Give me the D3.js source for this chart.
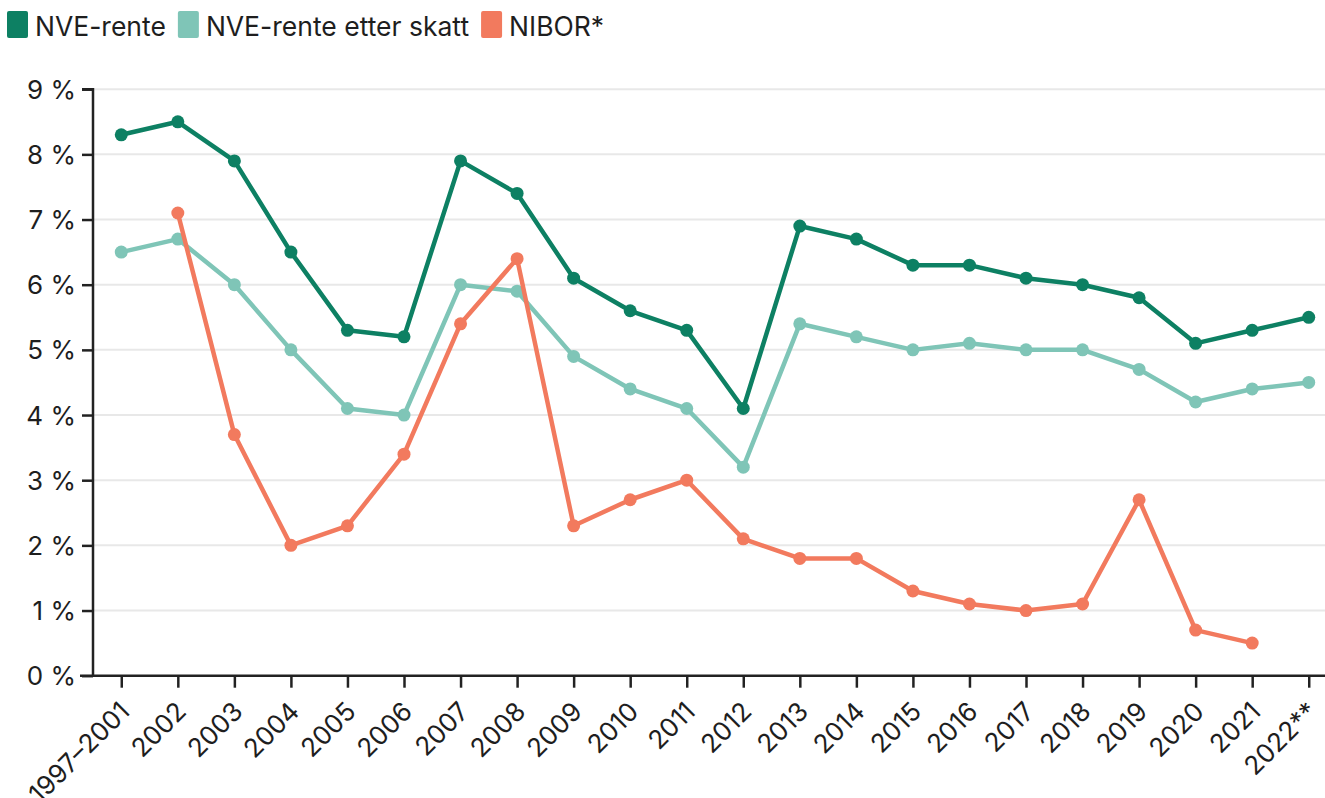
<!DOCTYPE html>
<html><head><meta charset="utf-8">
<script src="https://cdn.jsdelivr.net/npm/d3@7"></script>
<style>
html,body{margin:0;padding:0;background:#fff;overflow:hidden}
text{font-family:Inter,"Liberation Sans",sans-serif;fill:#1e1e1e}
</style></head><body>
<svg id="c" width="1325" height="798"></svg>
<script>
const categories = ["1997–2001","2002","2003","2004","2005","2006","2007","2008","2009","2010","2011","2012","2013","2014","2015","2016","2017","2018","2019","2020","2021","2022**"];
const nveRente = [8.3,8.5,7.9,6.5,5.3,5.2,7.9,7.4,6.1,5.6,5.3,4.1,6.9,6.7,6.3,6.3,6.1,6.0,5.8,5.1,5.3,5.5];
const nveEtterSkatt = [6.5,6.7,6.0,5.0,4.1,4.0,6.0,5.9,4.9,4.4,4.1,3.2,5.4,5.2,5.0,5.1,5.0,5.0,4.7,4.2,4.4,4.5];
const nibor = [null,7.1,3.7,2.0,2.3,3.4,5.4,6.4,2.3,2.7,3.0,2.1,1.8,1.8,1.3,1.1,1.0,1.1,2.7,0.7,0.5,null];
const yTicks = [0,1,2,3,4,5,6,7,8,9];
const seriesNames = ["NVE-rente","NVE-rente etter skatt","NIBOR*"];
const colors = ["#0d8063","#7fc5b7","#f27a5e"];

const svg = d3.select("#c");
const x = d3.scalePoint().domain(categories).range([93,1337]).padding(0.5);
const y = d3.scaleLinear().domain([0,9]).range([675.7,89.2]);

// grid
svg.append("g").selectAll("line").data(yTicks.filter(d=>d>0)).join("line")
  .attr("x1",93).attr("x2",1325).attr("y1",d=>y(d)).attr("y2",d=>y(d))
  .attr("stroke","#e8e8e8").attr("stroke-width",2);

// y axis
const ya = svg.append("g").attr("transform","translate(93,0)")
  .call(d3.axisLeft(y).tickValues(yTicks).tickFormat(d=>d+" %").tickSize(11).tickPadding(6));
ya.select(".domain").attr("stroke","#222").attr("stroke-width",2.5).attr("d","M-11,"+y(9)+"H0V"+y(0));
ya.selectAll(".tick line").attr("stroke","#222").attr("stroke-width",2.5);
ya.selectAll("text").style("font-size","26px").attr("fill","#1e1e1e").attr("dy","0.35em");

// x axis
const xa = svg.append("g").attr("transform","translate(0,675.7)")
  .call(d3.axisBottom(x).tickSize(12).tickPadding(6));
xa.select(".domain").attr("stroke","#222").attr("stroke-width",2.5).attr("d","M80,0H1337");
xa.selectAll(".tick line").attr("stroke","#222").attr("stroke-width",2.5);
xa.selectAll("text").style("font-size","26px").attr("fill","#1e1e1e")
  .attr("text-anchor","end").attr("dy","0.35em")
  .attr("transform","translate(3,31) rotate(-45)").attr("y",0).attr("x",0);

// lines
const allSeries = [nveRente, nveEtterSkatt, nibor];
const line = d3.line().defined(d=>d.v!=null).x(d=>x(d.c)).y(d=>y(d.v));
[1,0,2].forEach(i=>{
  const data = categories.map((c,j)=>({c, v: allSeries[i][j]}));
  const g = svg.append("g");
  g.append("path").datum(data).attr("d",line).attr("fill","none")
    .attr("stroke",colors[i]).attr("stroke-width",4.5).attr("stroke-linejoin","round");
  g.selectAll("circle").data(data.filter(d=>d.v!=null)).join("circle")
    .attr("cx",d=>x(d.c)).attr("cy",d=>y(d.v)).attr("r",6.5).attr("fill",colors[i]);
});

// legend
const leg = svg.append("g");
let lx = 7;
seriesNames.forEach((n,i)=>{
  leg.append("rect").attr("x",lx).attr("y",11).attr("width",21).attr("height",27).attr("rx",2).attr("fill",colors[i]);
  const t = leg.append("text").attr("x",lx+28).attr("y",36).style("font-size","26.5px").text(n);
  lx += 28 + t.node().getComputedTextLength() + 12;
});
</script></body></html>
